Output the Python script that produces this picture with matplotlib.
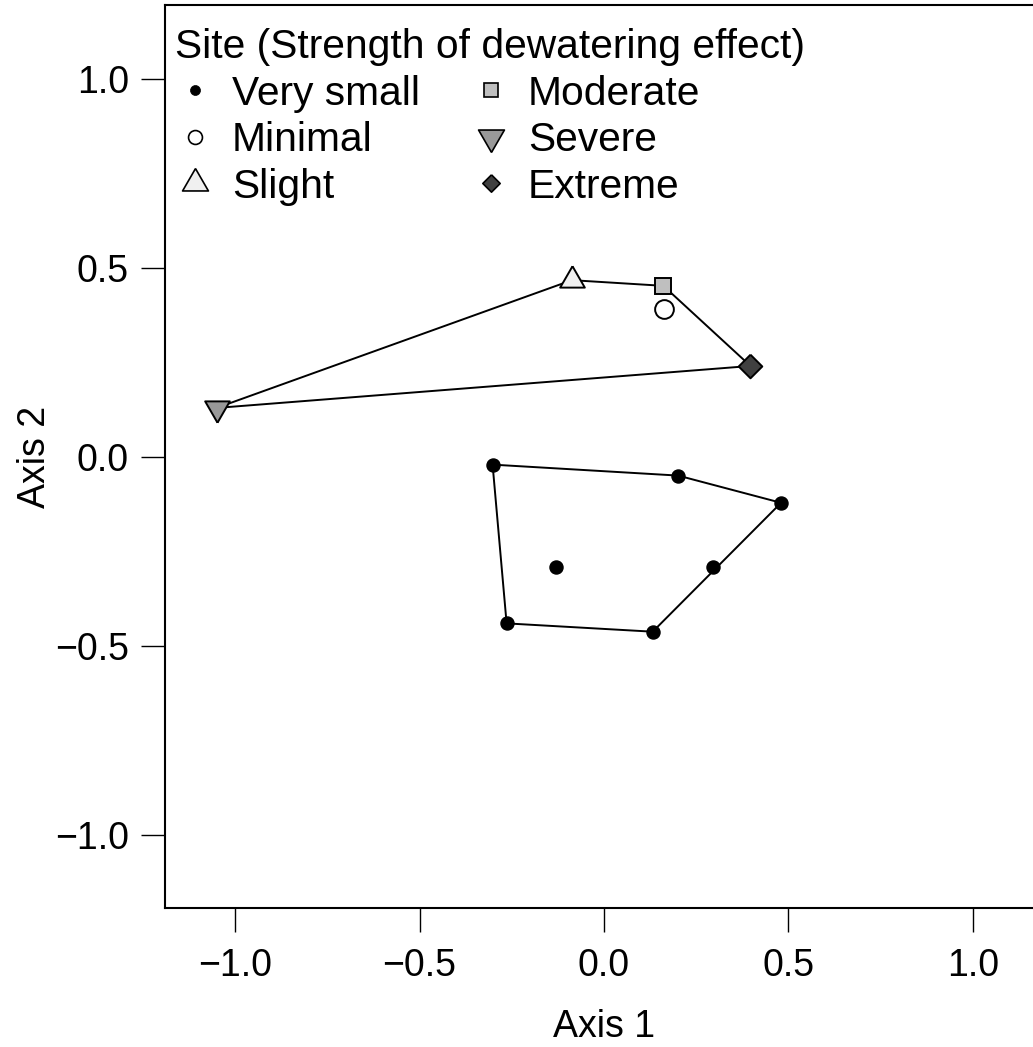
import matplotlib
matplotlib.use("Agg")
import matplotlib.pyplot as plt
from matplotlib.lines import Line2D
import numpy as np

plt.rcParams['font.family'] = ['Liberation Sans', 'DejaVu Sans']

# ---- data ----
vs_x = [-0.302, 0.201, 0.480, -0.130, 0.296, -0.264, 0.132]
vs_y = [-0.020, -0.049, -0.121, -0.292, -0.290, -0.440, -0.462]

site_names = ["Minimal", "Slight", "Moderate", "Severe", "Extreme"]
site_x = [0.163, -0.087, 0.161, -1.050, 0.397]
site_y = [0.392, 0.468, 0.453, 0.130, 0.241]

xticks = [-1.0, -0.5, 0.0, 0.5, 1.0]
yticks = [-1.0, -0.5, 0.0, 0.5, 1.0]
legend_title = "Site (Strength of dewatering effect)"
legend_labels = ["Very small", "Minimal", "Slight", "Moderate", "Severe", "Extreme"]

# ---- styles ----
TRI_UP = [(0, 1), (-0.866, -0.5), (0.866, -0.5), (0, 1)]
TRI_DN = [(0, -1), (-0.866, 0.5), (0.866, 0.5), (0, -1)]
DIAM = [(0, 1), (1, 0), (0, -1), (-1, 0), (0, 1)]
styles = {
    "Very small": dict(marker='o', mfc='black', ms=9.4, lms=7.2),
    "Minimal": dict(marker='o', mfc='white', ms=13.5, lms=10.0),
    "Slight": dict(marker=TRI_UP, mfc='#F0F0F0', ms=20.5, lms=21.5),
    "Moderate": dict(marker='s', mfc='#BFBFBF', ms=11.5, lms=10.0),
    "Severe": dict(marker=TRI_DN, mfc='#999999', ms=20.5, lms=21.5),
    "Extreme": dict(marker=DIAM, mfc='#404040', ms=17, lms=12.5),
}


def convex_hull(xs, ys):
    pts = sorted(set(zip(xs, ys)))
    def cross(o, a, b):
        return (a[0]-o[0])*(b[1]-o[1]) - (a[1]-o[1])*(b[0]-o[0])
    lower, upper = [], []
    for p in pts:
        while len(lower) >= 2 and cross(lower[-2], lower[-1], p) <= 0:
            lower.pop()
        lower.append(p)
    for p in reversed(pts):
        while len(upper) >= 2 and cross(upper[-2], upper[-1], p) <= 0:
            upper.pop()
        upper.append(p)
    hull = lower[:-1] + upper[:-1]
    hull.append(hull[0])
    return [h[0] for h in hull], [h[1] for h in hull]


W, H = 1033, 1047
fig = plt.figure(figsize=(W/100, H/100), dpi=100)
left, right, bottom, top = 165, 1043, 908, 5
ax = fig.add_axes([left/W, (H-bottom)/H, (right-left)/W, (bottom-top)/H])
ax.set_xlim(-1.19, 1.19)
ax.set_ylim(-1.193, 1.196)

# hulls
hx, hy = convex_hull(vs_x, vs_y)
ax.plot(hx, hy, color='black', lw=1.4, zorder=2)
hx, hy = convex_hull(site_x, site_y)
ax.plot(hx, hy, color='black', lw=1.4, zorder=2)

# points
ax.plot(vs_x, vs_y, linestyle='none', marker='o', mfc='black', mec='black',
        ms=styles["Very small"]["ms"], zorder=3)
for name, x, y in zip(site_names, site_x, site_y):
    st = styles[name]
    ax.plot([x], [y], linestyle='none', marker=st["marker"], mfc=st["mfc"],
            mec='black', mew=1.4, ms=st["ms"], zorder=3)

ax.set_xticks(xticks)
ax.set_yticks(yticks)
ax.set_xticklabels([f"{t:.1f}".replace("-", "\u2212") for t in xticks])
ax.set_yticklabels([f"{t:.1f}".replace("-", "\u2212") for t in yticks])
ax.tick_params(axis='both', direction='out', length=17, width=1.0,
               labelsize=27, color='black')
ax.tick_params(axis='x', pad=12)
ax.tick_params(axis='y', pad=9)
for s in ['left', 'bottom', 'top', 'right']:
    ax.spines[s].set_linewidth(1.5)

ax.set_xlabel("Axis 1", fontsize=27)
ax.set_ylabel("Axis 2", fontsize=27)
ax.xaxis.set_label_coords(0.50 - (1043 - 604 - (604 - 165)) / 878 / 2, -0.112)
ax.yaxis.set_label_coords(-0.128, 0.5)

# legend (column-wise order)
handles = []
for lab in legend_labels:
    st = styles[lab]
    handles.append(Line2D([], [], linestyle='none', marker=st["marker"],
                          mfc=st["mfc"], mec='black',
                          mew=1.2 if lab != "Very small" else 0.5,
                          ms=st["lms"]))
leg = ax.legend(handles, legend_labels, ncol=2, loc='upper left',
                bbox_to_anchor=(175/W, 1 - 28/H), bbox_transform=fig.transFigure,
                frameon=False, fontsize=29.3, title=legend_title, title_fontsize=29.3,
                alignment='left', handlelength=1.0, handletextpad=0.40,
                columnspacing=1.25, labelspacing=0.21, borderpad=0, borderaxespad=0)

fig.savefig("out.png", dpi=100)
